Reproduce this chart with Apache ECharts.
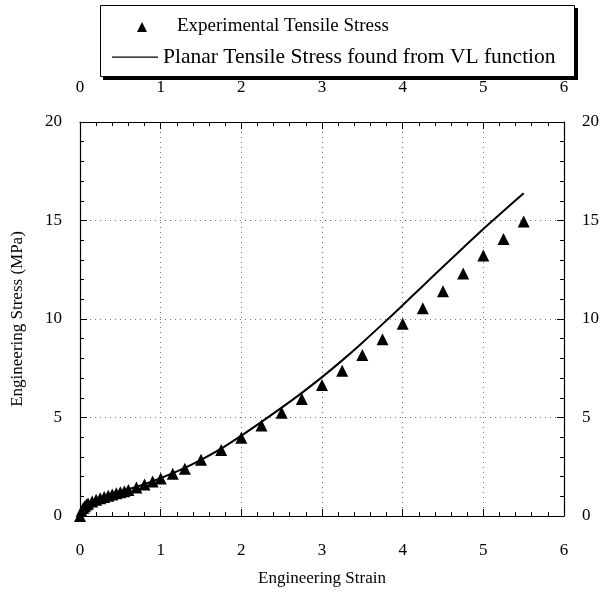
<!DOCTYPE html>
<html lang="en">
<head>
    <meta charset="utf-8" />
    <title>Engineering Stress vs Strain</title>
    <script src="https://cdn.jsdelivr.net/npm/echarts@6/dist/echarts.min.js"></script>
    <style>
        html, body { margin: 0; padding: 0; background: #fff; }
        #box { width: 605px; height: 594px; }
    </style>
</head>
<body>
<div id="box"></div>
<script>
    // experimental points (triangles)
    var expStrain = [0, 0.02, 0.04, 0.06, 0.08, 0.1, 0.15, 0.2, 0.25, 0.3, 0.35, 0.4, 0.45, 0.5, 0.55, 0.6, 0.7, 0.8, 0.9, 1.0,
        1.15, 1.3, 1.5, 1.75, 2.0, 2.25, 2.5, 2.75, 3.0, 3.25, 3.5, 3.75, 4.0, 4.25, 4.5, 4.75, 5.0, 5.25, 5.5];
    var expStress = [0, 0.25, 0.4, 0.5, 0.58, 0.64, 0.74, 0.82, 0.9, 0.97, 1.03, 1.09, 1.15, 1.2, 1.26, 1.32, 1.45, 1.6, 1.75, 1.9,
        2.15, 2.4, 2.85, 3.35, 3.97, 4.6, 5.24, 5.94, 6.65, 7.37, 8.17, 8.97, 9.76, 10.54, 11.41, 12.31, 13.22, 14.06, 14.95];

    // VL function curve
    var vlStrain = [0, 0.05, 0.1, 0.2, 0.4, 0.6, 0.8, 1.0, 1.25, 1.5, 1.75, 2.0, 2.25, 2.5, 2.75, 3.0, 3.25, 3.5, 3.75, 4.0, 4.25, 4.5, 4.75, 5.0, 5.25, 5.5];
    var vlStress = [0, 0.45, 0.65, 0.85, 1.12, 1.36, 1.62, 1.92, 2.35, 2.85, 3.42, 4.08, 4.78, 5.5, 6.25, 7.05, 7.9, 8.8, 9.74, 10.7, 11.68, 12.65, 13.62, 14.57, 15.48, 16.38];

    var xTicks = [0, 1, 2, 3, 4, 5, 6];
    var yTicks = [0, 5, 10, 15, 20];

    var expName = 'Experimental Tensile Stress';
    var vlName = 'Planar Tensile Stress found from VL function';

    function zip(a, b) {
        var out = [];
        for (var i = 0; i < a.length; i++) out.push([a[i], b[i]]);
        return out;
    }

    var font = 'Liberation Serif';
    var lbl = { fontFamily: font, fontSize: 17, color: '#000' };

    function xAx(pos, showName) {
        return {
            type: 'value', position: pos, min: xTicks[0], max: xTicks[xTicks.length - 1], interval: 1,
            name: showName ? 'Engineering Strain' : '', nameLocation: 'middle', nameGap: 54,
            nameTextStyle: { fontFamily: font, fontSize: 17, color: '#000' },
            axisLine: { show: true, onZero: false, lineStyle: { color: '#000', width: 1.2 } },
            axisTick: { show: true, inside: true, length: 7, lineStyle: { color: '#000' } },
            minorTick: { show: true, splitNumber: 5, length: 4, lineStyle: { color: '#000' } },
            axisLabel: Object.assign({ margin: 26 }, lbl),
            splitLine: { show: pos === 'bottom', lineStyle: { color: '#777', type: [1, 4] } }
        };
    }

    function yAx(pos, showName) {
        return {
            type: 'value', position: pos, min: yTicks[0], max: yTicks[yTicks.length - 1], interval: 5,
            name: showName ? 'Engineering Stress (MPa)' : '', nameLocation: 'middle', nameGap: 54, nameRotate: 90,
            nameTextStyle: { fontFamily: font, fontSize: 17, color: '#000' },
            axisLine: { show: true, onZero: false, lineStyle: { color: '#000', width: 1.2 } },
            axisTick: { show: true, inside: true, length: 7, lineStyle: { color: '#000' } },
            minorTick: { show: true, splitNumber: 5, length: 4, lineStyle: { color: '#000' } },
            axisLabel: Object.assign({ margin: 18 }, lbl),
            splitLine: { show: pos === 'left', lineStyle: { color: '#777', type: [1, 4] } }
        };
    }

    var myChart = echarts.init(document.getElementById('box'), null, { renderer: 'canvas' });
    var option = {
        backgroundColor: '#fff',
        animation: false,
        grid: { left: 80, right: 41, top: 122, bottom: 78, containLabel: false, outerBoundsMode: 'none' },
        // legend frame with a solid drop shadow
        graphic: [
            { type: 'rect', z: 0, silent: true, shape: { x: 103, y: 8, width: 475, height: 72 }, style: { fill: '#000' } },
            { type: 'rect', z: 1, silent: true, shape: { x: 100.5, y: 5.5, width: 474, height: 71 }, style: { fill: '#fff', stroke: '#000', lineWidth: 1 } }
        ],
        legend: {
            z: 10,
            orient: 'vertical',
            left: 100, top: 6,
            itemWidth: 46, itemHeight: 12,
            itemGap: 9,
            padding: [9, 17, 10, 12],
            itemStyle: { color: '#000', borderWidth: 0 },
            textStyle: {
                fontFamily: font, fontSize: 20, color: '#000', lineHeight: 22,
                rich: {
                    a: { fontFamily: font, fontSize: 19, color: '#000', lineHeight: 22, padding: [0, 0, 0, 14] },
                    b: { fontFamily: font, fontSize: 21.5, color: '#000', lineHeight: 22 }
                }
            },
            formatter: function (name) {
                return name === expName ? '{a|' + name + '}' : '{b|' + name + '}';
            },
            data: [
                { name: expName, icon: 'path://M0,0 M46,12 M25,12 L30,2 L35,12 Z' },
                { name: vlName, icon: 'path://M0,0 M46,12 M0,5.4 L46,5.4 L46,6.8 L0,6.8 Z' }
            ]
        },
        xAxis: [xAx('bottom', true), xAx('top', false)],
        yAxis: [yAx('left', true), yAx('right', false)],
        series: [
            {
                name: vlName,
                type: 'line',
                data: zip(vlStrain, vlStress),
                showSymbol: false, symbol: 'none',
                smooth: 0.3,
                lineStyle: { color: '#000', width: 2 },
                itemStyle: { color: '#000' },
                z: 2
            },
            {
                name: expName,
                type: 'scatter',
                data: zip(expStrain, expStress),
                symbol: 'triangle',
                symbolSize: 12,
                itemStyle: { color: '#000', opacity: 1 },
                z: 3
            }
        ]
    };
    myChart.setOption(option);
</script>
</body>
</html>
